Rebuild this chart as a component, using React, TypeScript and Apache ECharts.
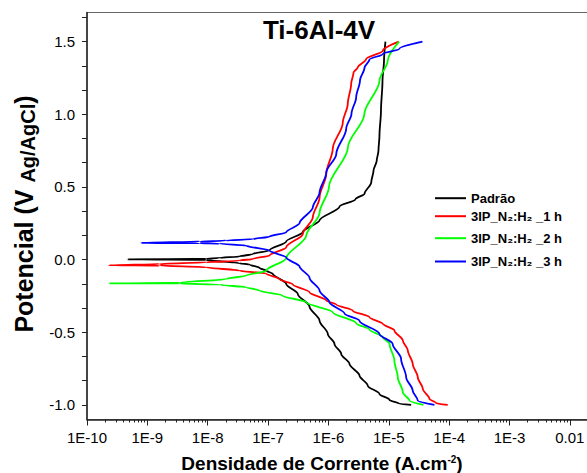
import React, { useEffect, useRef } from 'react';
import * as echarts from 'echarts';

// ---- Axis ticks / labels ----
const X_MAJOR = [1e-10, 1e-9, 1e-8, 1e-7, 1e-6, 1e-5, 1e-4, 1e-3, 1e-2];
const X_TICK_LABELS = ['1E-10', '1E-9', '1E-8', '1E-7', '1E-6', '1E-5', '1E-4', '1E-3', '0.01'];
const X_MINOR_MULT = [2, 3, 4, 5, 6, 7, 8, 9];
const Y_MAJOR = [-1.0, -0.5, 0.0, 0.5, 1.0, 1.5];
const Y_TICK_LABELS = ['-1.0', '-0.5', '0.0', '0.5', '1.0', '1.5'];

// ---- Series names ----
const NAMES = ['Padrão', '3IP_N₂:H₂ _1 h', '3IP_N₂:H₂ _2 h', '3IP_N₂:H₂ _3 h'];
const COLORS = ['#000000', '#ff0000', '#00ff00', '#0000ff'];

// ---- Data: current density (A/cm²) and potential (V Ag/AgCl), in sweep order ----
const BLACK_I = [2.35e-5, 1.50e-5, 1.03e-5, 7.01e-6, 4.49e-6, 3.27e-6, 2.23e-6, 1.63e-6, 1.26e-6, 9.77e-7, 7.13e-7, 4.86e-7, 3.11e-7, 2.00e-7, 1.20e-7, 9.33e-8, 7.23e-8, 4.94e-8, 3.37e-8, 9.49e-9, 4.67e-10, 9.49e-9, 1.57e-8, 3.37e-8, 5.60e-8, 1.06e-7, 2.00e-7, 3.77e-7, 7.13e-7, 1.53e-6, 2.81e-6, 3.98e-6, 5.12e-6, 5.58e-6, 6.32e-6, 6.75e-6, 7.01e-6, 7.43e-6, 7.87e-6, 8.34e-6, 8.81e-6];
const BLACK_V = [-1.0, -0.992, -0.965, -0.924, -0.867, -0.798, -0.717, -0.649, -0.580, -0.511, -0.420, -0.323, -0.236, -0.167, -0.098, -0.076, -0.057, -0.034, -0.025, -0.002, 0.002, 0.005, 0.012, 0.021, 0.039, 0.065, 0.125, 0.19, 0.27, 0.365, 0.415, 0.455, 0.530, 0.612, 0.681, 0.750, 0.853, 1.025, 1.231, 1.369, 1.5];

const RED_I = [9.49e-5, 6.10e-5, 4.72e-5, 3.66e-5, 3.02e-5, 2.49e-5, 2.07e-5, 1.71e-5, 1.24e-5, 7.96e-6, 4.79e-6, 2.54e-6, 1.35e-6, 9.20e-7, 4.86e-7, 2.58e-7, 1.55e-7, 9.33e-8, 3.37e-8, 9.49e-9, 1.60e-9, 2.31e-10, 1.60e-9, 9.49e-9, 3.37e-8, 5.60e-8, 1.06e-7, 2.00e-7, 3.77e-7, 5.52e-7, 7.13e-7, 9.20e-7, 1.18e-6, 1.73e-6, 2.09e-6, 2.38e-6, 2.60e-6, 3.07e-6, 4.23e-6, 7.96e-6, 1.47e-5];
const RED_V = [-1.0, -0.988, -0.958, -0.889, -0.809, -0.717, -0.626, -0.557, -0.488, -0.442, -0.397, -0.351, -0.309, -0.282, -0.225, -0.172, -0.134, -0.096, -0.076, -0.053, -0.041, -0.039, -0.030, -0.019, -0.007, 0.005, 0.028, 0.085, 0.177, 0.291, 0.428, 0.589, 0.763, 0.942, 1.071, 1.208, 1.286, 1.323, 1.380, 1.437, 1.5];

const GREEN_I = [3.75e-5, 2.20e-5, 1.71e-5, 1.41e-5, 1.24e-5, 1.03e-5, 7.96e-6, 4.79e-6, 2.88e-6, 1.18e-6, 4.29e-7, 1.76e-7, 7.23e-8, 4.36e-8, 1.57e-8, 3.43e-9, 2.31e-10, 3.43e-9, 2.03e-8, 4.36e-8, 9.33e-8, 2.00e-7, 4.29e-7, 7.13e-7, 1.02e-6, 2.10e-6, 3.93e-6, 7.01e-6, 9.62e-6, 1.48e-5];
const GREEN_V = [-1.0, -0.970, -0.913, -0.809, -0.695, -0.580, -0.534, -0.481, -0.437, -0.362, -0.294, -0.248, -0.213, -0.191, -0.172, -0.164, -0.163, -0.160, -0.133, -0.110, -0.076, 0.010, 0.165, 0.32, 0.50, 0.772, 1.0, 1.231, 1.369, 1.5];

const BLUE_I = [5.71e-5, 3.02e-5, 2.49e-5, 1.94e-5, 1.60e-5, 1.16e-5, 7.01e-6, 3.27e-6, 1.85e-6, 1.04e-6, 7.13e-7, 4.86e-7, 3.33e-7, 2.00e-7, 1.06e-7, 4.36e-8, 1.57e-8, 7.35e-9, 7.96e-10, 7.35e-9, 2.03e-8, 5.60e-8, 1.06e-7, 2.00e-7, 3.33e-7, 5.52e-7, 7.13e-7, 9.20e-7, 1.35e-6, 1.97e-6, 2.41e-6, 2.88e-6, 3.33e-6, 3.96e-6, 4.79e-6, 7.96e-6, 1.50e-5, 3.61e-5];
const BLUE_V = [-1.0, -0.970, -0.901, -0.809, -0.683, -0.580, -0.511, -0.420, -0.371, -0.294, -0.213, -0.124, -0.048, 0.014, 0.062, 0.096, 0.110, 0.113, 0.115, 0.124, 0.131, 0.141, 0.158, 0.188, 0.251, 0.360, 0.461, 0.598, 0.727, 0.901, 1.004, 1.116, 1.231, 1.320, 1.376, 1.415, 1.451, 1.5];

const CURRENTS = [BLACK_I, RED_I, GREEN_I, BLUE_I];
const POTENTIALS = [BLACK_V, RED_V, GREEN_V, BLUE_V];

const FONT = 'Liberation Sans, Arial, Helvetica, sans-serif';

const LEGEND_ROWS = [192.7, 210.7, 232.7, 256];

function buildOption() {
  const xMinor: number[] = [];
  for (let e = -10; e <= -2; e++) {
    for (const m of X_MINOR_MULT) xMinor.push(m * Math.pow(10, e));
  }
  const yTicks: number[] = [];
  for (let k = -6; k <= 10; k++) yTicks.push(k / 6);

  const series = NAMES.map((name, i) => ({
    name,
    type: 'line',
    xAxisIndex: 0,
    yAxisIndex: 0,
    symbol: 'none',
    showSymbol: false,
    smooth: 0.3,
    smoothMonotone: 'y',
    lineStyle: { color: COLORS[i], width: 1.8 },
    itemStyle: { color: COLORS[i] },
    data: CURRENTS[i].map((c, j) => [c, POTENTIALS[i][j]]),
    z: 3 + i,
  }));

  const legends = NAMES.map((name, i) => ({
    data: [{ name, icon: 'rect' }],
    left: 435,
    top: LEGEND_ROWS[i] - 1,
    orient: 'vertical',
    padding: 0,
    itemWidth: 31,
    itemHeight: 2,
    itemGap: 0,
    selectedMode: false,
    textStyle: { fontSize: 13, fontWeight: 'bold', color: '#000', fontFamily: FONT },
  }));

  return {
    animation: false,
    backgroundColor: '#ffffff',
    grid: {
      left: 87,
      top: 12.5,
      width: 543.2,
      height: 407,
      show: true,
      borderColor: '#666666',
      borderWidth: 1,
      backgroundColor: 'transparent',
      containLabel: false,
      outerBoundsMode: 'none',
    },
    legend: legends,
    xAxis: [
      {
        type: 'log',
        logBase: 10,
        min: 1e-10,
        max: 0.1,
        position: 'bottom',
        axisLine: { show: true, onZero: false, lineStyle: { color: '#222', width: 1.5 } },
        axisTick: { show: true, customValues: X_MAJOR, length: 6, lineStyle: { color: '#222', width: 1 } },
        axisLabel: {
          customValues: X_MAJOR,
          formatter: (v: number) => {
            const idx = X_MAJOR.findIndex((m) => Math.abs(Math.log10(m) - Math.log10(v)) < 1e-6);
            return idx >= 0 ? X_TICK_LABELS[idx] : '';
          },
          fontSize: 15,
          color: '#000',
          fontFamily: FONT,
          margin: 10,
        },
        splitLine: { show: false },
      },
      {
        type: 'log',
        logBase: 10,
        min: 1e-10,
        max: 0.1,
        position: 'bottom',
        offset: 0,
        axisLine: { show: false, onZero: false },
        axisTick: { show: true, customValues: xMinor, length: 3, lineStyle: { color: '#222', width: 1 } },
        axisLabel: { show: false },
        splitLine: { show: false },
      },
    ],
    yAxis: [
      {
        type: 'value',
        min: -1.1,
        max: 1.7,
        axisLine: { show: true, onZero: false, lineStyle: { color: '#222', width: 1.5 } },
        axisTick: { show: true, customValues: yTicks, length: 5, lineStyle: { color: '#222', width: 1 } },
        axisLabel: {
          customValues: Y_MAJOR,
          formatter: (v: number) => {
            const idx = Y_MAJOR.findIndex((m) => Math.abs(m - v) < 1e-6);
            return idx >= 0 ? Y_TICK_LABELS[idx] : '';
          },
          fontSize: 15,
          color: '#000',
          fontFamily: FONT,
          margin: 12,
        },
        splitLine: { show: false },
      },
    ],
    graphic: [
      {
        type: 'text',
        x: 319,
        y: 30,
        z: 100,
        style: {
          text: 'Ti-6Al-4V',
          fontSize: 26,
          fontWeight: 'bold',
          fontFamily: FONT,
          fill: '#000',
          align: 'center',
          verticalAlign: 'middle',
        },
      },
      {
        type: 'text',
        x: 24,
        y: 214,
        rotation: Math.PI / 2,
        z: 100,
        style: {
          text: '{a|Potencial (V }{b|Ag/AgCl}{a|)}',
          align: 'center',
          verticalAlign: 'middle',
          fill: '#000',
          rich: {
            a: { fontSize: 25, fontWeight: 'bold', fontFamily: FONT, lineHeight: 28, verticalAlign: 'middle', fill: '#000' },
            b: { fontSize: 20, fontWeight: 'bold', fontFamily: FONT, lineHeight: 20, verticalAlign: 'bottom', fill: '#000' },
          },
        },
      },
      {
        type: 'text',
        x: 322,
        y: 463,
        z: 100,
        style: {
          text: '{a|Densidade de Corrente (A.cm}{s|-2}{a|)}',
          align: 'center',
          verticalAlign: 'middle',
          fill: '#000',
          rich: {
            a: { fontSize: 19, fontWeight: 'bold', fontFamily: FONT, lineHeight: 18, verticalAlign: 'middle', fill: '#000' },
            s: { fontSize: 10, fontWeight: 'bold', fontFamily: FONT, lineHeight: 10, verticalAlign: 'top', fill: '#000' },
          },
        },
      },
    ],
    series,
  };
}

export default function App() {
  const ref = useRef<HTMLDivElement>(null);
  useEffect(() => {
    if (!ref.current) return;
    const chart = echarts.init(ref.current, null, { renderer: 'svg' });
    chart.setOption(buildOption() as any);
    return () => {
      chart.dispose();
    };
  }, []);
  return (
    <div
      ref={ref}
      style={{ position: 'absolute', left: 0, top: 0, width: 587, height: 473, background: '#fff', overflow: 'hidden' }}
    />
  );
}
